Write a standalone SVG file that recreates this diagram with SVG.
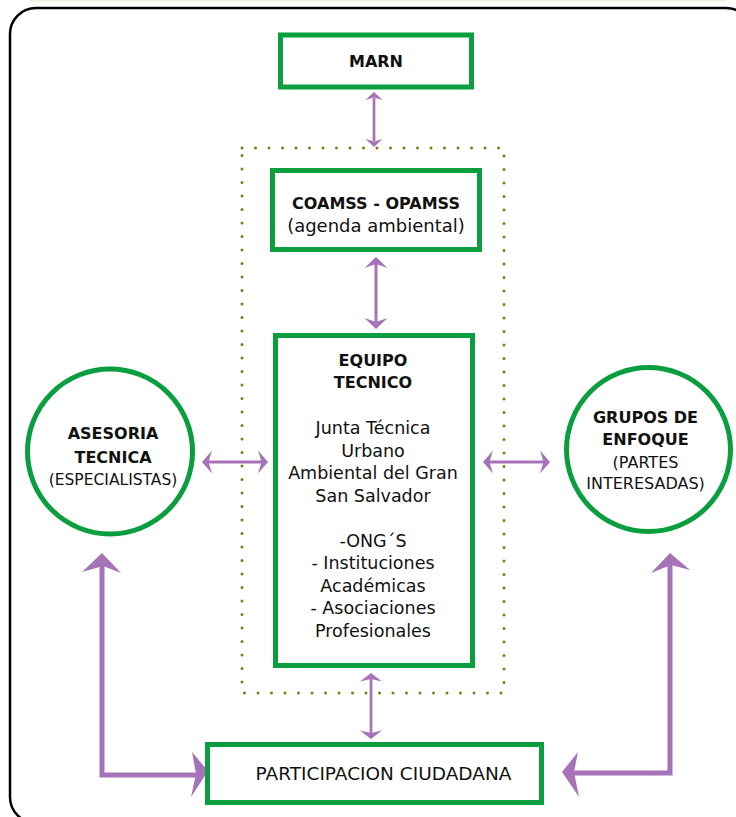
<svg xmlns="http://www.w3.org/2000/svg" width="736" height="817" viewBox="0 0 736 817">
<style>
.box{fill:#fff;stroke:#0A9E3E;stroke-width:5}
.circ{fill:#fff;stroke:#0A9E3E;stroke-width:5}
.t{font-family:"DejaVu Sans","Liberation Sans",sans-serif;fill:#111;text-anchor:middle}
.b{font-weight:bold;font-size:16px}
.n{font-size:17.5px}
.line{fill:none;stroke:#A673B8;stroke-linejoin:miter}
.head{fill:#A673B8}
</style>
<rect x="0" y="0" width="736" height="817" fill="#fff"/>
<rect x="30" y="0" width="697" height="1.5" fill="#F4F1DA"/>
<rect x="10" y="8" width="742" height="815" rx="26" fill="none" stroke="#000" stroke-width="2.5"/>
<rect id="grupo-equipo" x="242" y="148" width="262" height="545" fill="none" stroke="#7E7C12" stroke-width="3" stroke-linecap="round" stroke-dasharray="0 13.5"/>

<g id="connectors">
  <!-- MARN <-> COAMSS -->
  <path class="line" stroke-width="2.7" d="M374 98 V141"/>
  <path class="head" d="M374 92 L382.5 100 L374 97.5 L365.5 100 Z"/>
  <path class="head" d="M374 147 L382.5 139 L374 141.5 L365.5 139 Z"/>
  <!-- COAMSS <-> EQUIPO -->
  <path class="line" stroke-width="3" d="M376 263 V322"/>
  <path class="head" d="M376 257 L387.5 268 L376 264 L364.5 268 Z"/>
  <path class="head" d="M376 329 L387.5 318 L376 322 L364.5 318 Z"/>
  <!-- ASESORIA <-> EQUIPO -->
  <path class="line" stroke-width="3" d="M208 462 H262"/>
  <path class="head" d="M202 462 L212 450.5 L208.5 462 L212 473.5 Z"/>
  <path class="head" d="M268 462 L258 450.5 L261.5 462 L258 473.5 Z"/>
  <!-- EQUIPO <-> GRUPOS -->
  <path class="line" stroke-width="3" d="M489 462 H544"/>
  <path class="head" d="M483 462 L493 450.5 L489.5 462 L493 473.5 Z"/>
  <path class="head" d="M550 462 L540 450.5 L543.5 462 L540 473.5 Z"/>
  <!-- EQUIPO <-> PARTICIPACION -->
  <path class="line" stroke-width="2.7" d="M371 678 V734"/>
  <path class="head" d="M371 673 L382 681.5 L371 679 L360 681.5 Z"/>
  <path class="head" d="M371 739 L382 730.5 L371 733 L360 730.5 Z"/>
  <!-- ASESORIA <-> PARTICIPACION -->
  <path class="line" stroke-width="5" d="M102 562 V775 H198"/>
  <path class="head" d="M102 553 L121 573 L103 566 L82 572 Z"/>
  <path class="head" d="M208 771 L191 797 L196 774 L192 752 Z"/>
  <!-- GRUPOS <-> PARTICIPACION -->
  <path class="line" stroke-width="5" d="M670 562 V773 H572"/>
  <path class="head" d="M670 553 L690 570 L671 565 L651 573 Z"/>
  <path class="head" d="M562 772 L578 752 L574 772 L579 797 Z"/>
</g>

<g id="marn">
  <rect class="box" x="280.5" y="35" width="191" height="52"/>
  <text class="t b" x="376" y="67">MARN</text>
</g>

<g id="coamss">
  <rect class="box" x="272.5" y="170.5" width="207" height="79"/>
  <text class="t b" x="376" y="209">COAMSS - OPAMSS</text>
  <text class="t" font-size="18" x="376" y="232">(agenda ambiental)</text>
</g>

<g id="equipo">
  <rect class="box" x="275.5" y="335.5" width="197" height="330"/>
  <text class="t b" x="373" y="366">EQUIPO</text>
  <text class="t b" x="373" y="388">TECNICO</text>
  <text class="t n" x="373" y="434">Junta Técnica</text>
  <text class="t n" x="373" y="456.5">Urbano</text>
  <text class="t n" x="373" y="479">Ambiental del Gran</text>
  <text class="t n" x="373" y="501.5">San Salvador</text>
  <text class="t n" x="373" y="546.5">-ONG´S</text>
  <text class="t n" x="373" y="569">- Instituciones</text>
  <text class="t n" x="373" y="591.5">Académicas</text>
  <text class="t n" x="373" y="614">- Asociaciones</text>
  <text class="t n" x="373" y="636.5">Profesionales</text>
</g>

<g id="asesoria">
  <circle class="circ" cx="110" cy="451.5" r="82.5"/>
  <text class="t b" font-size="15.5" x="113" y="439">ASESORIA</text>
  <text class="t b" font-size="15.5" x="113" y="463">TECNICA</text>
  <text class="t" font-size="15.5" x="113" y="485">(ESPECIALISTAS)</text>
</g>

<g id="grupos">
  <circle class="circ" cx="648.5" cy="449.5" r="82"/>
  <text class="t b" font-size="15.5" x="645.5" y="423">GRUPOS DE</text>
  <text class="t b" font-size="15.5" x="645.5" y="445">ENFOQUE</text>
  <text class="t" font-size="16" x="645.5" y="468">(PARTES</text>
  <text class="t" font-size="16" x="645.5" y="489">INTERESADAS)</text>
</g>

<g id="participacion">
  <rect class="box" x="207.5" y="744.5" width="334" height="58"/>
  <text class="t" font-size="18.5" x="383.5" y="779.5">PARTICIPACION CIUDADANA</text>
</g>
</svg>
